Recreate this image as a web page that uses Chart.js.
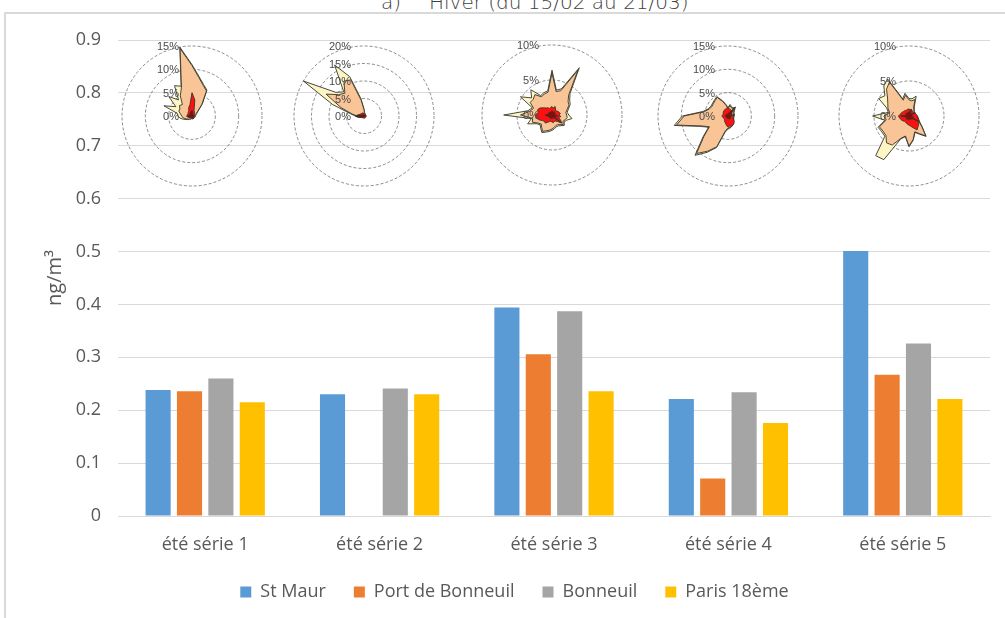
<!DOCTYPE html>
<html lang="fr">
<head>
<meta charset="utf-8">
<title>Hiver (du 15/02 au 21/03)</title>
<script src="https://cdn.jsdelivr.net/npm/chart.js@4.4.1/dist/chart.umd.min.js"></script>
<style>
  html, body { margin: 0; padding: 0; background: #ffffff; }
  #wrap { position: relative; width: 1005px; height: 618px; overflow: hidden; background: #ffffff; }
  #frame { position: absolute; left: 4px; top: 12px; width: 1020px; height: 640px;
           border-left: 2px solid #d9d9d9; border-top: 2px solid #d9d9d9; box-sizing: border-box; }
  .ttl { position: absolute; top: -8px; font: 20px/20px "DejaVu Sans", sans-serif; color: #404040; white-space: pre; font-weight: 200; }
  #main { position: absolute; left: 0; top: 0; }
  .rose { position: absolute; }
</style>
</head>
<body>
<div id="wrap">
  <div id="frame"></div>
  <span class="ttl" style="left:381px">a)</span>
  <span class="ttl" style="left:429px">Hiver (du 15/02 au 21/03)</span>
  <canvas id="main" width="1005" height="618"></canvas>
  <canvas class="rose" id="rose1" width="160" height="160"></canvas>
  <canvas class="rose" id="rose2" width="160" height="160"></canvas>
  <canvas class="rose" id="rose3" width="160" height="160"></canvas>
  <canvas class="rose" id="rose4" width="160" height="160"></canvas>
  <canvas class="rose" id="rose5" width="160" height="160"></canvas>
</div>
<script>
// ---- Concentrations (ng/m3) per sampling series ----
const categories = ['été série 1', 'été série 2', 'été série 3', 'été série 4', 'été série 5'];
const stMaur         = [0.238, 0.230, 0.394, 0.221, 0.501];
const portDeBonneuil = [0.236, null,  0.306, 0.071, 0.267];
const bonneuil       = [0.260, 0.241, 0.387, 0.234, 0.326];
const paris18        = [0.215, 0.230, 0.236, 0.176, 0.221];
const yTickLabels = ['0', '0.1', '0.2', '0.3', '0.4', '0.5', '0.6', '0.7', '0.8', '0.9'];

// ---- Wind roses: frequency (%) per 10° direction, cumulative classes ----
const directions = ['0°','10°','20°','30°','40°','50°','60°','70°','80°','90°','100°','110°',
  '120°','130°','140°','150°','160°','170°','180°','190°','200°','210°','220°','230°',
  '240°','250°','260°','270°','280°','290°','300°','310°','320°','330°','340°','350°'];

const rose1Outer = [11.0, 8.6, 7.2, 6.4, 3.5, 1.8, 1.2, 1.0, 0.8, 0.8, 0.7, 0.7, 0.6, 0.6, 0.6, 0.6, 0.6, 0.6,
  0.6, 0.6, 0.7, 0.8, 0.9, 1.2, 1.5, 2.0, 2.6, 3.0, 3.2, 6.4, 4.0, 6.5, 4.5, 7.5, 6.8, 15.0];
const rose1Mid = [10.8, 8.4, 7.0, 6.2, 3.3, 1.6, 1.0, 0.8, 0.7, 0.7, 0.6, 0.6, 0.5, 0.5, 0.5, 0.5, 0.5, 0.5,
  0.5, 0.5, 0.6, 0.7, 0.8, 1.0, 1.3, 1.6, 2.0, 2.2, 2.5, 3.0, 3.0, 3.5, 3.2, 5.0, 6.6, 14.7];
const rose1Inner = [5.0, 3.5, 1.3, 1.0, 0.8, 0.7, 0.6, 0.6, 0.5, 0.5, 0.5, 0.5, 0.5, 0.5, 0.6, 0.6, 0.6, 0.6,
  0.6, 0.5, 0.5, 0.5, 0.5, 0.5, 0.6, 0.7, 0.8, 0.9, 0.9, 1.0, 1.0, 1.1, 1.2, 1.4, 2.0, 2.5];
const rose1Core = [1.2, 0.8, 0.5, 0.4, 0.4, 0.4, 0.3, 0.3, 0.3, 0.5, 0.3, 0.3, 0.3, 0.4, 0.5, 0.6, 0.4, 0.3,
  0.3, 0.3, 0.3, 0.3, 0.4, 0.5, 0.6, 0.8, 1.0, 1.2, 0.8, 0.6, 0.5, 0.5, 0.6, 0.8, 0.9, 1.0];

const rose2Outer = [2.0, 1.0, 0.8, 0.6, 0.5, 0.5, 0.5, 0.5, 0.5, 0.5, 0.5, 0.5, 0.5, 0.5, 0.5, 0.5, 0.5, 0.5,
  0.5, 0.5, 0.5, 0.5, 0.6, 0.7, 0.9, 1.2, 1.8, 2.5, 4.0, 9.5, 20.0, 10.5, 9.0, 16.8, 12.0, 5.0];
const rose2Mid = [1.8, 0.9, 0.7, 0.5, 0.4, 0.4, 0.4, 0.4, 0.4, 0.4, 0.4, 0.4, 0.4, 0.4, 0.4, 0.4, 0.4, 0.4,
  0.4, 0.4, 0.4, 0.4, 0.5, 0.6, 0.8, 1.0, 1.5, 2.0, 3.5, 7.0, 12.5, 9.5, 8.5, 11.5, 11.0, 4.5];
const rose2Inner = [0.8, 0.6, 0.6, 0.6, 0.6, 0.6, 0.6, 0.6, 0.6, 0.6, 0.6, 0.6, 0.6, 0.6, 0.6, 0.6, 0.6, 0.6,
  0.6, 0.6, 0.6, 0.6, 0.6, 0.7, 0.8, 1.0, 1.8, 2.5, 1.8, 1.2, 1.2, 1.0, 1.0, 1.0, 0.9, 0.8];
const rose2Core = [0.4, 0.3, 0.3, 0.3, 0.3, 0.3, 0.3, 0.3, 0.3, 0.3, 0.3, 0.3, 0.3, 0.3, 0.3, 0.3, 0.3, 0.3,
  0.3, 0.3, 0.3, 0.3, 0.4, 0.5, 0.6, 0.8, 1.5, 2.2, 1.5, 0.8, 0.6, 0.5, 0.5, 0.5, 0.4, 0.4];

const rose3Outer = [6.4, 3.6, 4.0, 7.8, 4.0, 3.3, 3.0, 2.5, 2.2, 2.4, 2.9, 2.2, 2.0, 2.3, 2.0, 1.8, 1.8, 2.0,
  2.2, 2.4, 2.6, 2.9, 2.5, 2.2, 2.5, 3.7, 3.0, 6.9, 3.5, 3.0, 5.2, 3.8, 4.7, 3.2, 3.4, 3.5];
const rose3Mid = [6.0, 3.4, 3.7, 7.4, 3.7, 3.0, 2.8, 2.3, 2.0, 2.1, 2.2, 2.0, 1.8, 2.1, 1.8, 1.6, 1.6, 1.8,
  2.0, 2.2, 2.4, 2.7, 2.3, 2.0, 2.3, 3.0, 2.8, 4.5, 3.2, 2.8, 3.6, 3.5, 3.8, 3.0, 3.2, 3.3];
const rose3Inner = [1.2, 1.0, 1.3, 1.0, 0.8, 0.9, 1.0, 1.1, 1.2, 1.0, 1.3, 1.0, 1.4, 1.8, 1.2, 1.0, 1.0, 1.1,
  1.0, 0.9, 1.0, 1.2, 1.5, 1.4, 1.6, 2.0, 2.3, 2.4, 2.0, 2.2, 2.0, 1.6, 1.3, 1.2, 1.0, 1.1];
const rose3Core = [0.6, 0.4, 0.5, 0.4, 0.6, 0.4, 0.5, 0.4, 0.5, 0.4, 0.9, 0.4, 0.5, 1.6, 0.5, 0.4, 0.5, 0.4,
  0.5, 0.4, 0.6, 0.4, 0.5, 0.4, 0.6, 0.5, 0.8, 1.0, 0.6, 0.5, 0.6, 0.4, 0.5, 0.4, 0.5, 0.4];

const rose4Outer = [1.8, 2.5, 2.2, 2.0, 2.4, 1.8, 1.5, 1.4, 1.3, 1.3, 1.3, 1.3, 1.4, 1.6, 1.9, 2.1, 2.4, 2.6,
  2.8, 3.5, 7.2, 9.0, 11.0, 7.0, 4.8, 6.5, 11.7, 9.8, 5.5, 4.5, 4.2, 4.3, 4.5, 4.8, 3.5, 2.5];
const rose4Mid = [1.6, 2.2, 2.0, 1.8, 2.2, 1.6, 1.4, 1.3, 1.2, 1.2, 1.2, 1.2, 1.3, 1.5, 1.8, 2.0, 2.3, 2.5,
  2.6, 3.2, 7.0, 8.7, 10.5, 6.7, 4.6, 6.2, 11.2, 9.4, 5.2, 4.3, 4.0, 4.1, 4.3, 4.6, 3.3, 2.3];
const rose4Inner = [1.7, 1.6, 1.5, 1.3, 1.2, 1.1, 1.0, 0.9, 0.9, 0.9, 1.0, 1.2, 1.4, 1.7, 2.0, 2.2, 2.3, 2.2,
  2.4, 2.0, 1.6, 1.4, 1.2, 1.0, 1.0, 1.1, 1.2, 1.3, 1.2, 1.1, 1.2, 1.3, 1.4, 1.5, 1.6, 1.7];
const rose4Core = [0.5, 0.6, 0.8, 1.2, 2.5, 1.0, 0.6, 0.5, 1.5, 0.5, 0.6, 0.5, 0.6, 0.7, 0.6, 0.8, 0.6, 0.5,
  0.6, 0.5, 0.5, 0.4, 0.5, 0.4, 0.5, 0.4, 0.5, 0.6, 0.5, 0.4, 0.5, 0.4, 0.5, 0.4, 0.5, 0.4];

const rose5Outer = [2.5, 2.5, 3.0, 1.5, 1.2, 1.0, 1.0, 1.0, 1.0, 1.2, 1.3, 1.5, 1.8, 2.5, 3.8, 3.0, 2.5, 3.5,
  4.4, 3.0, 3.5, 7.2, 7.4, 4.5, 4.5, 4.7, 3.5, 5.2, 3.0, 3.4, 5.0, 4.5, 5.6, 6.1, 2.6, 3.3];
const rose5Mid = [2.3, 2.2, 2.5, 1.3, 1.1, 0.9, 0.9, 0.9, 0.9, 1.1, 1.2, 1.4, 1.7, 2.4, 3.7, 2.9, 2.4, 3.4,
  4.3, 2.9, 3.4, 4.8, 5.0, 4.3, 4.3, 4.5, 3.3, 3.6, 2.8, 3.2, 3.5, 4.0, 5.0, 5.6, 2.4, 3.0];
const rose5Inner = [1.0, 0.9, 1.0, 0.9, 0.8, 0.8, 0.9, 1.0, 1.1, 1.2, 1.3, 1.4, 1.6, 1.8, 2.0, 2.3, 1.8, 1.5,
  1.3, 1.2, 1.1, 1.0, 1.0, 1.1, 1.2, 1.3, 1.4, 1.5, 1.3, 1.2, 1.1, 1.0, 1.0, 0.9, 0.9, 1.0];
const rose5Core = [0.5, 0.6, 1.0, 0.5, 0.4, 0.5, 1.0, 0.5, 0.4, 0.5, 0.6, 0.5, 1.5, 0.6, 0.5, 0.6, 0.5, 0.4,
  0.6, 0.5, 0.4, 0.5, 0.6, 0.5, 0.4, 0.5, 0.6, 1.2, 0.5, 0.4, 0.5, 0.6, 0.5, 0.4, 0.5, 0.6];

const roseMax = [15, 20, 10, 15, 10];

// ---- Bar chart ----
const FONT = '"Open Sans", "Noto Sans", sans-serif';
const TEXT_GREY = '#595959';
const GRID_GREY = '#d9d9d9';

new Chart(document.getElementById('main'), {
  type: 'bar',
  data: {
    labels: categories,
    datasets: [
      { label: 'St Maur', data: stMaur, backgroundColor: '#5B9BD5' },
      { label: 'Port de Bonneuil', data: portDeBonneuil, backgroundColor: '#ED7D31' },
      { label: 'Bonneuil', data: bonneuil, backgroundColor: '#A5A5A5' },
      { label: 'Paris 18ème', data: paris18, backgroundColor: '#FFC000' }
    ]
  },
  options: {
    responsive: false,
    animation: false,
    events: [],
    layout: { padding: { left: 39, right: 15, top: 40, bottom: 7 } },
    datasets: { bar: { categoryPercentage: 0.72, barPercentage: 0.8 } },
    plugins: {
      legend: {
        position: 'bottom',
        labels: { boxWidth: 11, boxHeight: 11, padding: 28, color: TEXT_GREY,
                  font: { family: FONT, size: 18 } }
      },
      tooltip: { enabled: false }
    },
    scales: {
      x: {
        grid: { display: false, drawTicks: false },
        border: { display: true, color: GRID_GREY, width: 1 },
        ticks: { padding: 18, color: TEXT_GREY, font: { family: FONT, size: 18 } },
        afterFit(scale) { scale.height = 39; }
      },
      y: {
        min: 0, max: 0.9,
        grid: { color: GRID_GREY, lineWidth: 1, drawTicks: false },
        border: { display: false },
        ticks: {
          stepSize: 0.1, padding: 17, color: TEXT_GREY,
          font: { family: FONT, size: 18 },
          callback: (value, index) => yTickLabels[index]
        },
        title: { display: true, text: 'ng/m³', color: TEXT_GREY, font: { family: FONT, size: 20 } },
        afterFit(scale) { scale.width = 79; }
      }
    }
  }
});

// ---- Wind roses ----
const roseTickLabels = {
  id: 'roseTickLabels',
  afterDatasetsDraw(chart) {
    const r = chart.scales.r;
    const ctx = chart.ctx;
    ctx.save();
    ctx.font = '11px "Liberation Sans", Arial, sans-serif';
    ctx.fillStyle = '#4a4a4a';
    ctx.textAlign = 'right';
    ctx.textBaseline = 'middle';
    r.ticks.forEach(t => {
      const d = r.getDistanceFromCenterForValue(t.value);
      ctx.fillText(t.value + '%', r.xCenter - 13, r.yCenter - d + 1);
    });
    ctx.restore();
  }
};

const ROSE_BOX = 160;      // canvas size; radius = (ROSE_BOX - 2 * ROSE_PAD) / 2
const ROSE_PAD = 10;
const roseCenters = [[192, 116], [364, 116], [552, 115], [728, 116], [909, 116]];
const roseSeries = [
  [rose1Core, rose1Inner, rose1Mid, rose1Outer],
  [rose2Core, rose2Inner, rose2Mid, rose2Outer],
  [rose3Core, rose3Inner, rose3Mid, rose3Outer],
  [rose4Core, rose4Inner, rose4Mid, rose4Outer],
  [rose5Core, rose5Inner, rose5Mid, rose5Outer]
];
const roseFills = ['#8b0a0a', '#ff1010', '#f9c597', '#fbf6c4'];

roseSeries.forEach((series, k) => {
  const el = document.getElementById('rose' + (k + 1));
  el.style.left = (roseCenters[k][0] - ROSE_BOX / 2) + 'px';
  el.style.top = (roseCenters[k][1] - ROSE_BOX / 2) + 'px';
  new Chart(el, {
    type: 'radar',
    data: {
      labels: directions,
      datasets: series.map((vals, j) => ({
        data: vals,
        fill: true,
        backgroundColor: roseFills[j],
        borderColor: '#35352a',
        borderWidth: 0.9,
        pointRadius: 0,
        tension: 0
      }))
    },
    options: {
      responsive: false,
      animation: false,
      events: [],
      layout: { padding: ROSE_PAD },
      plugins: { legend: { display: false }, tooltip: { enabled: false } },
      scales: {
        r: {
          min: 0, max: roseMax[k],
          ticks: { display: false, stepSize: 5 },
          grid: { circular: true, color: '#6e6e6e', lineWidth: 0.8 },
          border: { dash: [3, 2] },
          angleLines: { display: false },
          pointLabels: { display: false }
        }
      }
    },
    plugins: [roseTickLabels]
  });
});
</script>
</body>
</html>
